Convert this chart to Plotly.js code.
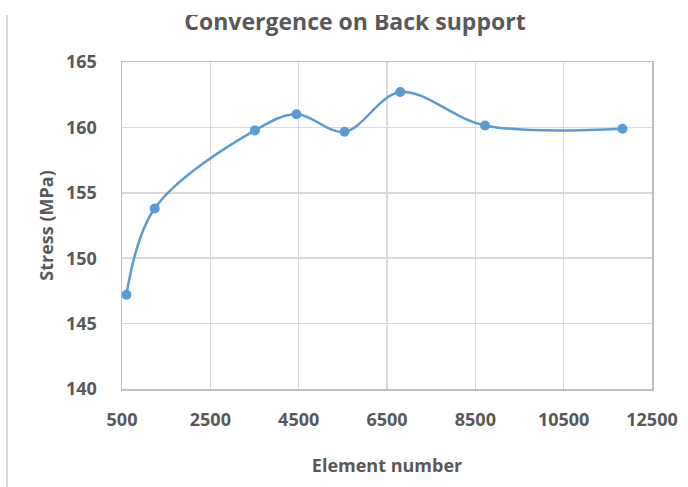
<!DOCTYPE html>
<html>
<head>
<meta charset="utf-8">
<script src="https://cdn.plot.ly/plotly-3.0.1.min.js"></script>
<style>
  html, body { margin: 0; padding: 0; background: #fff; }
  #wrap { position: relative; width: 688px; height: 487px; overflow: hidden; }
  #chart { width: 688px; height: 487px; }
  #topcrop { position: absolute; left: 0; top: 0; width: 688px; height: 15px; background: #fff; }
  #leftrule { position: absolute; left: 6px; top: 15px; width: 2px; height: 472px; background: #d9d9d9; }
</style>
</head>
<body>
<div id="wrap">
  <div id="chart"></div>
  <div id="topcrop"></div>
  <div id="leftrule"></div>
</div>
<script>
const elementNumbers = [600, 1240, 3510, 4450, 5540, 6800, 8720, 11830];
const stressValues = [147.2, 153.8, 159.77, 161.0, 159.67, 162.7, 160.15, 159.9];
const xTickValues = [500, 2500, 4500, 6500, 8500, 10500, 12500];
const yTickValues = [140, 145, 150, 155, 160, 165];

const textColor = '#595959';
const fontFam = '"Open Sans", "Liberation Sans", sans-serif';

const trace = {
  x: elementNumbers,
  y: stressValues,
  type: 'scatter',
  mode: 'lines+markers',
  line: { color: '#5b9bd5', width: 2.5, shape: 'spline', smoothing: 1 },
  marker: { color: '#5b9bd5', size: 10 },
  hoverinfo: 'x+y'
};

const layout = {
  width: 688,
  height: 487,
  margin: { l: 122, r: 36, t: 62, b: 98 },
  paper_bgcolor: '#ffffff',
  plot_bgcolor: '#ffffff',
  showlegend: false,
  font: { family: fontFam, color: textColor },
  title: {
    text: 'Convergence on Back support',
    font: { family: fontFam, size: 23, color: textColor, weight: 'bold' },
    x: 355 / 688, xanchor: 'center', xref: 'container',
    y: 1 - 22 / 487, yanchor: 'middle', yref: 'container'
  },
  xaxis: {
    range: [500, 12500],
    tickvals: xTickValues,
    ticktext: xTickValues.map(String),
    ticks: '',
    ticklabelstandoff: 14,
    tickfont: { family: fontFam, size: 18, color: textColor, weight: 'bold' },
    showgrid: true,
    gridcolor: '#d9d9d9',
    gridwidth: 1.5,
    zeroline: false,
    showline: true,
    linecolor: '#bfbfbf',
    linewidth: 1.5,
    mirror: true,
    title: {
      text: 'Element number',
      font: { family: fontFam, size: 18, color: textColor, weight: 'bold' },
      standoff: 29
    }
  },
  yaxis: {
    range: [140, 165],
    tickvals: yTickValues,
    ticktext: yTickValues.map(String),
    ticks: '',
    ticklabelstandoff: 20,
    tickfont: { family: fontFam, size: 18, color: textColor, weight: 'bold' },
    showgrid: true,
    gridcolor: '#d9d9d9',
    gridwidth: 1.5,
    zeroline: false,
    showline: true,
    linecolor: '#bfbfbf',
    linewidth: 1.5,
    mirror: true,
    title: {
      text: 'Stress (MPa)',
      font: { family: fontFam, size: 18, color: textColor, weight: 'bold' },
      standoff: 7
    }
  }
};

Plotly.newPlot('chart', [trace], layout, { displayModeBar: false, staticPlot: true });
</script>
</body>
</html>
